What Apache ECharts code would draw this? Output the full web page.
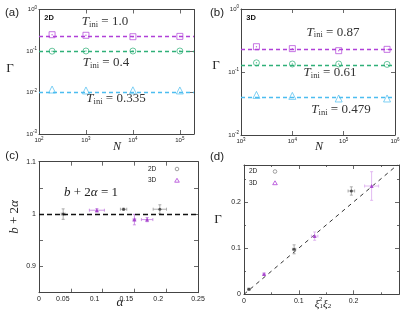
<!DOCTYPE html>
<html>
<head>
<meta charset="utf-8">
<script src="https://cdn.jsdelivr.net/npm/echarts@6/dist/echarts.min.js"></script>
<style>html,body{margin:0;padding:0;background:#fff}#c{width:415px;height:312px}</style>
</head>
<body>
<div id="c"></div>
<script>
// ---------- data ----------
// panel (a) 2D
const Na = [190, 1000, 10000, 100000];
const gammaA_T10 = [0.247, 0.239, 0.221, 0.225];
const gammaA_T04 = [0.099, 0.1, 0.1, 0.1];
const gammaA_T0335 = [0.0118, 0.0112, 0.0113, 0.0112];
const lineA = [0.23, 0.1, 0.0112];
// panel (b) 3D
const Nb = [2000, 10000, 80000, 700000];
const gammaB_T087 = [0.252, 0.235, 0.218, 0.229];
const gammaB_T061 = [0.14, 0.134, 0.134, 0.132];
const gammaB_T0479 = [0.0433, 0.0418, 0.038, 0.038];
const lineB = [0.229, 0.134, 0.0396];
// panel (c): [alpha, b+2alpha, alphaErr, yErr]
const c2D = [[0.038, 1.0, 0.003, 0.01], [0.133, 1.0093, 0.005, 0.002], [0.19, 1.0093, 0.0105, 0.0085]];
const c3D = [[0.091, 1.0074, 0.0118, 0.003], [0.150, 0.9895, 0.002, 0.01], [0.170, 0.9895, 0.009, 0.004]];
const cRef = 1;
// panel (d): [xi1^2 xi2, Gamma, xErr, yErr]
const d2D = [[0.009, 0.011, 0.002, 0.002], [0.0915, 0.0974, 0.003, 0.0097], [0.196, 0.2237, 0.006, 0.009]];
const d3D = [[0.0366, 0.044, 0.002, 0.002], [0.129, 0.126, 0.006, 0.009], [0.233, 0.2345, 0.0128, 0.031]];
const dLine = [[0, 0], [0.28, 0.28]];

// ---------- styles ----------
const serif = "'Liberation Serif','DejaVu Serif',serif";
const sans = "'Liberation Sans','DejaVu Sans',Arial,sans-serif";
const PURPLE = '#b040d8', GREEN = '#2fb078', BLUE = '#4cbdf0';
const AX = '#444';

const supRich = {
  b: {fontSize: 6, fontFamily: sans, color: '#222'},
  s: {fontSize: 4.5, fontFamily: sans, color: '#222', padding: [0, 0, 4, 0]}
};
function logFmt(v) {
  const e = Math.log10(v), r = Math.round(e);
  if (Math.abs(e - r) > 1e-6) return '';
  return '{b|10}{s|' + r + '}';
}
function logAxis(grid, min, max, pos, showLabel) {
  return {
    type: 'log', logBase: 10, gridIndex: grid, min: min, max: max, position: pos,
    axisLine: {show: true, onZero: false, lineStyle: {color: AX, width: 1}},
    axisTick: {show: true, inside: true, length: 4, lineStyle: {color: AX, width: 0.8}},
    splitLine: {show: false},
    axisLabel: {show: showLabel, margin: 2, formatter: logFmt, rich: supRich, fontSize: 6}
  };
}
function valAxis(grid, min, max, interval, pos, showLabel, fmt, minor, rich) {
  const a = {
    type: 'value', gridIndex: grid, min: min, max: max, interval: interval, position: pos,
    axisLine: {show: true, onZero: false, lineStyle: {color: AX, width: 1}},
    axisTick: {show: true, inside: true, length: 4, lineStyle: {color: AX, width: 0.8}},
    splitLine: {show: false},
    axisLabel: {show: showLabel, margin: 3, formatter: fmt, fontSize: 7, fontFamily: sans, color: '#222', rich: rich}
  };
  if (minor) a.minorTick = {show: true, splitNumber: minor, length: 2, lineStyle: {color: AX, width: 0.8}};
  return a;
}
function stepFmt(step, dec) {
  return function (v) {
    const k = v / step;
    if (Math.abs(k - Math.round(k)) > 1e-6) return '';
    return String(+v.toFixed(dec));
  };
}
// panel (c) alpha labels: the inner labels sit a little left of their ticks in the reference
const alphaRich = {m: {fontSize: 7, fontFamily: sans, color: '#222', padding: [0, 16, 0, 0]}};
function alphaFmt(v) {
  const s = stepFmt(0.05, 2)(v);
  if (s === '' || v < 1e-9 || v > 0.2499) return s;
  return '{m|' + s + '}';
}

function openScatter(xi, yi, xs, ys, symbol, color, size, lineVal, dot) {
  const out = [{
    type: 'scatter', xAxisIndex: xi, yAxisIndex: yi, symbol: symbol, symbolSize: size, color: color,
    data: xs.map((x, i) => [x, ys[i]]),
    itemStyle: {color: 'rgba(255,255,255,0)', borderColor: color, borderWidth: 0.9},
    z: 3,
    markLine: {
      silent: true, symbol: ['none', 'none'], label: {show: false}, z: 2,
      itemStyle: {color: color},
      lineStyle: {color: color, type: [4, 3], width: 1.3, opacity: 1},
      data: [{yAxis: lineVal, lineStyle: {color: color}}]
    }
  }];
  if (dot) out.push({
    type: 'scatter', xAxisIndex: xi, yAxisIndex: yi, symbol: 'circle', symbolSize: 1.4,
    data: xs.map((x, i) => [x, ys[i]]), itemStyle: {color: color}, z: 4
  });
  return out;
}

function errSeries(xi, yi, data, color) {
  return {
    type: 'custom', xAxisIndex: xi, yAxisIndex: yi, data: data, encode: {x: 0, y: 1}, z: 2,
    renderItem: function (params, api) {
      const x = api.value(0), y = api.value(1), xe = api.value(2), ye = api.value(3);
      const l = api.coord([x - xe, y]), r = api.coord([x + xe, y]);
      const b = api.coord([x, y - ye]), t = api.coord([x, y + ye]);
      const st = {stroke: color, lineWidth: 0.8};
      const cap = 1.5;
      const L = (x1, y1, x2, y2) => ({type: 'line', shape: {x1, y1, x2, y2}, style: st});
      return {
        type: 'group', children: [
          L(l[0], l[1], r[0], r[1]), L(b[0], b[1], t[0], t[1]),
          L(l[0], l[1] - cap, l[0], l[1] + cap), L(r[0], r[1] - cap, r[0], r[1] + cap),
          L(b[0] - cap, b[1], b[0] + cap, b[1]), L(t[0] - cap, t[1], t[0] + cap, t[1])
        ]
      };
    }
  };
}

// ---------- text helpers ----------
function T(x, y, text, o) {
  return {
    type: 'text', x: x, y: y, rotation: (o && o.rot) || 0, z: 10,
    style: Object.assign({
      text: text, fontFamily: serif, fontSize: 13, fill: '#222',
      align: 'center', verticalAlign: 'middle'
    }, o && o.style)
  };
}
const tRich = {
  i: {fontFamily: serif, fontStyle: 'italic', fontSize: 13, fill: '#333'},
  s: {fontFamily: serif, fontSize: 8.5, fill: '#333', padding: [5, 0, 0, 0]}
};
function tini(x, y, val) {
  return T(x, y, '{i|T}{s|ini} = ' + val, {style: {rich: tRich, fill: '#333', fontSize: 13}});
}
function legendG(x, y, sx) {
  return [
    T(x, y, '2D', {style: {fontFamily: sans, fontSize: 6.5, align: 'left'}}),
    {type: 'circle', z: 10, shape: {cx: sx, cy: y, r: 1.8}, style: {fill: 'none', stroke: '#888', lineWidth: 0.8}},
    T(x, y + 11.5, '3D', {style: {fontFamily: sans, fontSize: 6.5, align: 'left'}}),
    {type: 'polygon', z: 10, shape: {points: [[sx, y + 9.3], [sx + 2.3, y + 13.2], [sx - 2.3, y + 13.2]]},
      style: {fill: 'none', stroke: PURPLE, lineWidth: 0.8}}
  ];
}

const chart = echarts.init(document.getElementById('c'), null, {renderer: 'canvas'});
chart.setOption({
  animation: false,
  backgroundColor: '#fff',
  grid: [
    {left: 39, top: 9.5, width: 155, height: 124.5},
    {left: 241, top: 9, width: 154, height: 126},
    {left: 39, top: 161.7, width: 159, height: 131},
    {left: 244, top: 165, width: 155, height: 129.3}
  ],
  xAxis: [
    logAxis(0, 100, 200000, 'bottom', true),
    logAxis(1, 1000, 1000000, 'bottom', true),
    valAxis(2, 0, 0.25, 0.05, 'bottom', true, alphaFmt, 0, alphaRich),
    valAxis(3, 0, 0.283, 0.1, 'bottom', true, stepFmt(0.1, 1), 2),
    logAxis(0, 100, 200000, 'top', false),
    logAxis(1, 1000, 1000000, 'top', false),
    valAxis(2, 0, 0.25, 0.05, 'top', false, stepFmt(0.05, 2)),
    valAxis(3, 0, 0.283, 0.1, 'top', false, stepFmt(0.1, 1), 2)
  ],
  yAxis: [
    logAxis(0, 0.001, 1, 'left', true),
    logAxis(1, 0.01, 1, 'left', true),
    valAxis(2, 0.85, 1.1, 0.05, 'left', true, stepFmt(0.1, 1)),
    valAxis(3, 0, 0.28, 0.1, 'left', true, stepFmt(0.1, 1), 2),
    logAxis(0, 0.001, 1, 'right', false),
    logAxis(1, 0.01, 1, 'right', false),
    valAxis(2, 0.85, 1.1, 0.05, 'right', false, stepFmt(0.1, 1)),
    valAxis(3, 0, 0.28, 0.1, 'right', false, stepFmt(0.1, 1), 2)
  ],
  series: [].concat(
    openScatter(0, 0, Na, gammaA_T10, 'rect', PURPLE, 6, lineA[0], true),
    openScatter(0, 0, Na, gammaA_T04, 'circle', GREEN, 6, lineA[1], true),
    openScatter(0, 0, Na, gammaA_T0335, 'triangle', BLUE, 7, lineA[2], false),
    openScatter(1, 1, Nb, gammaB_T087, 'rect', PURPLE, 6, lineB[0], true),
    openScatter(1, 1, Nb, gammaB_T061, 'circle', GREEN, 6, lineB[1], true),
    openScatter(1, 1, Nb, gammaB_T0479, 'triangle', BLUE, 7, lineB[2], false),
    [
      errSeries(2, 2, c2D, '#999'),
      errSeries(2, 2, c3D, '#c27ae0'),
      {
        name: '2D', type: 'scatter', xAxisIndex: 2, yAxisIndex: 2, symbol: 'circle', symbolSize: 3,
        data: c2D.map(d => [d[0], d[1]]), itemStyle: {color: '#333'}, z: 3,
        markLine: {
          silent: true, symbol: ['none', 'none'], label: {show: false},
          lineStyle: {color: '#111', type: [5, 3], width: 1.3}, data: [{yAxis: cRef}]
        }
      },
      {
        name: '3D', type: 'scatter', xAxisIndex: 2, yAxisIndex: 2, symbol: 'triangle', symbolSize: 4,
        data: c3D.map(d => [d[0], d[1]]), itemStyle: {color: '#9a2cc4'}, z: 3
      },
      {
        type: 'line', xAxisIndex: 3, yAxisIndex: 3, data: dLine, symbol: 'none', z: 1,
        lineStyle: {color: '#333', type: [4, 4], width: 1}
      },
      errSeries(3, 3, d2D, '#999'),
      errSeries(3, 3, d3D, '#dba8ee'),
      {
        name: '2D', type: 'scatter', xAxisIndex: 3, yAxisIndex: 3, symbol: 'circle', symbolSize: 3,
        data: d2D.map(d => [d[0], d[1]]), itemStyle: {color: '#333'}, z: 3
      },
      {
        name: '3D', type: 'scatter', xAxisIndex: 3, yAxisIndex: 3, symbol: 'triangle', symbolSize: 4,
        data: d3D.map(d => [d[0], d[1]]), itemStyle: {color: '#9a2cc4'}, z: 3
      }
    ]
  ),
  graphic: [].concat(
    legendG(148, 169, 177),
    legendG(249, 171.5, 275),
    [
      T(12, 13, '(a)', {style: {fontFamily: sans, fontSize: 11.5}}),
      T(217, 13, '(b)', {style: {fontFamily: sans, fontSize: 11.5}}),
      T(12, 156, '(c)', {style: {fontFamily: sans, fontSize: 11.5}}),
      T(217, 157, '(d)', {style: {fontFamily: sans, fontSize: 11.5}}),
      T(49, 17.5, '2D', {style: {fontFamily: sans, fontSize: 7.5, fontWeight: 'bold', fill: '#111'}}),
      T(251, 17.5, '3D', {style: {fontFamily: sans, fontSize: 7.5, fontWeight: 'bold', fill: '#111'}}),
      T(10, 69, 'Γ', {style: {fontSize: 13}}),
      T(216, 66, 'Γ', {style: {fontSize: 13}}),
      T(218, 220, 'Γ', {style: {fontSize: 13}}),
      T(117, 147, 'N', {style: {fontStyle: 'italic', fontSize: 12}}),
      T(319, 147, 'N', {style: {fontStyle: 'italic', fontSize: 12}}),
      T(120, 303, 'α', {style: {fontStyle: 'italic', fontSize: 13}}),
      T(15, 217, '{i|b} + 2{i|α}', {rot: Math.PI / 2, style: {fontSize: 13, rich: {i: {fontFamily: serif, fontStyle: 'italic', fontSize: 13}}}}),
      T(91, 193, '{i|b} + 2{i|α} = 1', {style: {fontSize: 13, rich: {i: {fontFamily: serif, fontStyle: 'italic', fontSize: 13}}}}),
      T(323, 304, '{i|ξ}{s|1}{i|ξ}{s|2}', {style: {fontSize: 11, rich: {
        i: {fontFamily: serif, fontStyle: 'italic', fontSize: 11},
        s: {fontFamily: serif, fontSize: 7, padding: [4, 0, 0, 0]}
      }}}),
      T(320.5, 299, '2', {style: {fontSize: 7}}),
      tini(105, 22, '1.0'),
      tini(106, 63, '0.4'),
      tini(116, 99, '0.335'),
      tini(333, 32.5, '0.87'),
      tini(330, 73, '0.61'),
      tini(341, 110, '0.479')
    ]
  )
});
</script>
</body>
</html>
